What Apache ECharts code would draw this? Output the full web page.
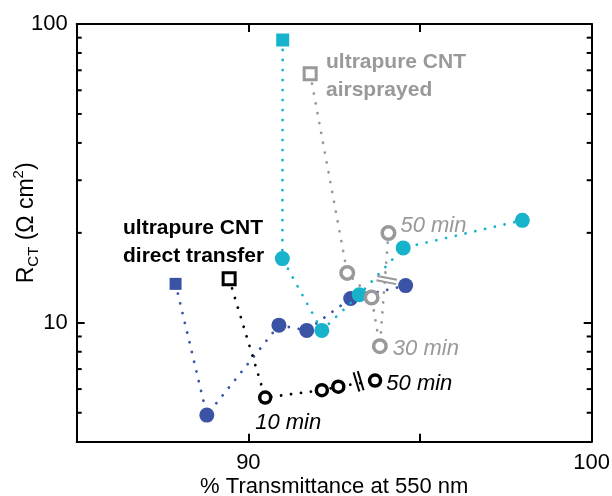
<!DOCTYPE html>
<html><head><meta charset="utf-8">
<script src="https://cdn.jsdelivr.net/npm/echarts@6/dist/echarts.min.js"></script>
<style>html,body{margin:0;padding:0;background:#fff}#c{width:612px;height:496px}</style>
</head><body><div id="c"></div>
<script>
// ---- data ----
const darkBlueX = [87.88, 88.79, 90.89, 91.70, 92.98, 94.58];
const darkBlueY = [13.5, 4.91, 9.82, 9.43, 12.06, 13.32];
const cyanX = [91.00, 90.99, 92.14, 93.23, 94.51, 97.98];
const cyanY = [88.4, 16.4, 9.43, 12.41, 17.81, 22.02];
const airX = [91.80, 92.88, 93.59, 93.83, 94.08];
const airY = [68.1, 14.69, 12.15, 8.35, 19.98];
const airLabels = ['', '', '', '30 min', '50 min'];
const dtX = [89.44, 90.49, 92.14, 92.62, 93.69];
const dtY = [14.03, 5.62, 5.95, 6.11, 6.41];
const dtLabels = ['', '10 min', '', '', '50 min'];
const breakX = [94.03, 93.21];
const breakY = [13.9, 6.37];
const minorY = [5, 6, 7, 8, 9, 20, 30, 40, 50, 60, 70, 80, 90];
const xTickLabels = ['90', '100'];
const yTickLabels = ['10', '100'];
const annAir = ['ultrapure CNT', 'airsprayed'];
const annDT = ['ultrapure CNT', 'direct transfer'];
const xName = '% Transmittance at 550 nm';

// ---- styles ----
const X_MIN = 85, X_MAX = 100, Y_MIN = 4, Y_MAX = 100;
const C_BLUE = '#3a53a5', C_CYAN = '#17b3cb', C_GRAY = '#999999', C_BLACK = '#000000';
const FONT = '"Liberation Sans", Arial, sans-serif';
const breakAngle = [11, 73];
const breakColor = [C_GRAY, C_BLACK];

const dotted = (c) => ({ color: c, width: 2.8, type: [0.01, 10], cap: 'round' });

function pts(xs, ys, opts) {
  return xs.map((x, i) => {
    const item = { value: [x, ys[i]] };
    if (i === 0) {
      item.symbol = 'rect'; item.symbolSize = opts.sq;
      if (opts.sqBorder) item.itemStyle = { borderWidth: opts.sqBorder };
    }
    if (opts.labels && opts.labels[i]) {
      const lp = opts.labelPos[i];
      item.label = {
        show: true, formatter: opts.labels[i], position: lp.pos, offset: lp.off,
        distance: lp.dist, color: opts.lc, fontSize: 22, fontStyle: 'italic', fontFamily: FONT
      };
    }
    return item;
  });
}

const chart = echarts.init(document.getElementById('c'), null, { renderer: 'canvas' });

const axisCommon = {
  axisLine: { show: true, onZero: false, lineStyle: { color: '#000', width: 2 } },
  axisTick: { show: true, inside: true, length: 8, lineStyle: { color: '#000', width: 2 } },
  splitLine: { show: false }
};

chart.setOption({
  animation: false,
  backgroundColor: '#fff',
  grid: { left: 76.7, right: 20.3, top: 24, bottom: 54.3, containLabel: false, outerBoundsMode: 'none' },
  xAxis: [
    Object.assign({
      type: 'value', min: X_MIN, max: X_MAX, interval: 5, position: 'bottom',
      name: xName, nameLocation: 'middle', nameGap: 34, nameMoveOverlap: false,
      nameTextStyle: { fontSize: 22, fontFamily: FONT, color: '#000' },
      axisLabel: {
        show: true, margin: 10, fontSize: 22, fontFamily: FONT, color: '#000',
        showMinLabel: true, showMaxLabel: true,
        formatter: (v) => xTickLabels.includes(String(Math.round(v))) ? String(Math.round(v)) : ''
      }
    }, axisCommon),
    Object.assign({
      type: 'value', min: X_MIN, max: X_MAX, interval: 5, position: 'top',
      axisLabel: { show: false }
    }, axisCommon)
  ],
  yAxis: [
    Object.assign({
      type: 'log', logBase: 10, min: Y_MIN, max: Y_MAX, position: 'left',
      name: 'R{sub|CT} (Ω cm{sup|2})', nameLocation: 'middle', nameGap: 35, nameMoveOverlap: false,
      nameTextStyle: {
        fontSize: 23, fontFamily: FONT, color: '#000', lineHeight: 30, padding: [0, 0, 0, 20],
        rich: {
          sub: { fontSize: 15, fontFamily: FONT, color: '#000', lineHeight: 15, verticalAlign: 'bottom' },
          sup: { fontSize: 15, fontFamily: FONT, color: '#000', lineHeight: 15, verticalAlign: 'top' }
        }
      },
      axisLabel: {
        show: true, margin: 9, fontSize: 22, fontFamily: FONT, color: '#000',
        showMinLabel: true, showMaxLabel: true,
        formatter: (v) => yTickLabels.includes(String(Math.round(v))) ? String(Math.round(v)) : ''
      }
    }, axisCommon),
    Object.assign({
      type: 'log', logBase: 10, min: Y_MIN, max: Y_MAX, position: 'right',
      axisLabel: { show: false }
    }, axisCommon)
  ],
  graphic: [
    {
      type: 'text', left: 326, top: 48,
      style: { text: annAir.join('\n'), fill: C_GRAY, font: 'bold 21px ' + FONT, lineHeight: 28 }
    },
    {
      type: 'text', left: 123, top: 214.5,
      style: { text: annDT.join('\n'), fill: C_BLACK, font: 'bold 21px ' + FONT, lineHeight: 28 }
    }
  ],
  series: [
    {
      type: 'custom', name: 'minor ticks', silent: true, z: 1,
      data: minorY.map(v => [X_MIN, v]),
      renderItem: (params, api) => {
        const v = api.value(1);
        const a = api.coord([X_MIN, v]);
        const b = api.coord([X_MAX, v]);
        const st = { stroke: '#000', lineWidth: 2 };
        return {
          type: 'group', children: [
            { type: 'line', shape: { x1: a[0], y1: a[1], x2: a[0] + 5, y2: a[1] }, style: st },
            { type: 'line', shape: { x1: b[0] - 5, y1: b[1], x2: b[0], y2: b[1] }, style: st }
          ]
        };
      }
    },
    {
      type: 'line', name: 'dark blue', z: 3,
      data: pts(darkBlueX, darkBlueY, { sq: 12 }),
      symbol: 'circle', symbolSize: 15,
      itemStyle: { color: C_BLUE },
      lineStyle: dotted(C_BLUE)
    },
    {
      type: 'line', name: 'cyan', z: 4,
      data: pts(cyanX, cyanY, { sq: 13 }),
      symbol: 'circle', symbolSize: 15,
      itemStyle: { color: C_CYAN },
      lineStyle: dotted(C_CYAN)
    },
    {
      type: 'line', name: 'airsprayed', z: 5,
      data: pts(airX, airY, {
        sq: 12, sqBorder: 3, labels: airLabels, lc: C_GRAY,
        labelPos: [null, null, null,
          { pos: 'right', off: [0, 3], dist: 5 },
          { pos: 'right', off: [0, -7], dist: 4 }]
      }),
      symbol: 'circle', symbolSize: 12.5,
      itemStyle: { color: '#fff', borderColor: C_GRAY, borderWidth: 3.5 },
      lineStyle: dotted(C_GRAY)
    },
    {
      type: 'line', name: 'direct transfer', z: 6,
      data: pts(dtX, dtY, {
        sq: 12, sqBorder: 3, labels: dtLabels, lc: C_BLACK,
        labelPos: [null,
          { pos: 'bottom', off: [23, 0], dist: 7 },
          null, null,
          { pos: 'right', off: [0, 3], dist: 4 }]
      }),
      symbol: 'circle', symbolSize: 11,
      itemStyle: { color: '#fff', borderColor: C_BLACK, borderWidth: 3.5 },
      lineStyle: dotted(C_BLACK)
    },
    {
      type: 'custom', name: 'breaks', silent: true, z: 7,
      data: breakX.map((x, i) => [x, breakY[i]]),
      renderItem: (params, api) => {
        const p = api.coord([api.value(0), api.value(1)]);
        const ang = breakAngle[params.dataIndex] * Math.PI / 180;
        const L = 10, g = 2.2;
        const dx = Math.cos(ang) * L, dy = Math.sin(ang) * L;
        const nx = -Math.sin(ang) * g, ny = Math.cos(ang) * g;
        const st = { stroke: breakColor[params.dataIndex], lineWidth: 2 };
        return {
          type: 'group', children: [
            { type: 'line', shape: { x1: p[0] - dx + nx, y1: p[1] - dy + ny, x2: p[0] + dx + nx, y2: p[1] + dy + ny }, style: st },
            { type: 'line', shape: { x1: p[0] - dx - nx, y1: p[1] - dy - ny, x2: p[0] + dx - nx, y2: p[1] + dy - ny }, style: st }
          ]
        };
      }
    }
  ]
});
</script>
</body></html>
